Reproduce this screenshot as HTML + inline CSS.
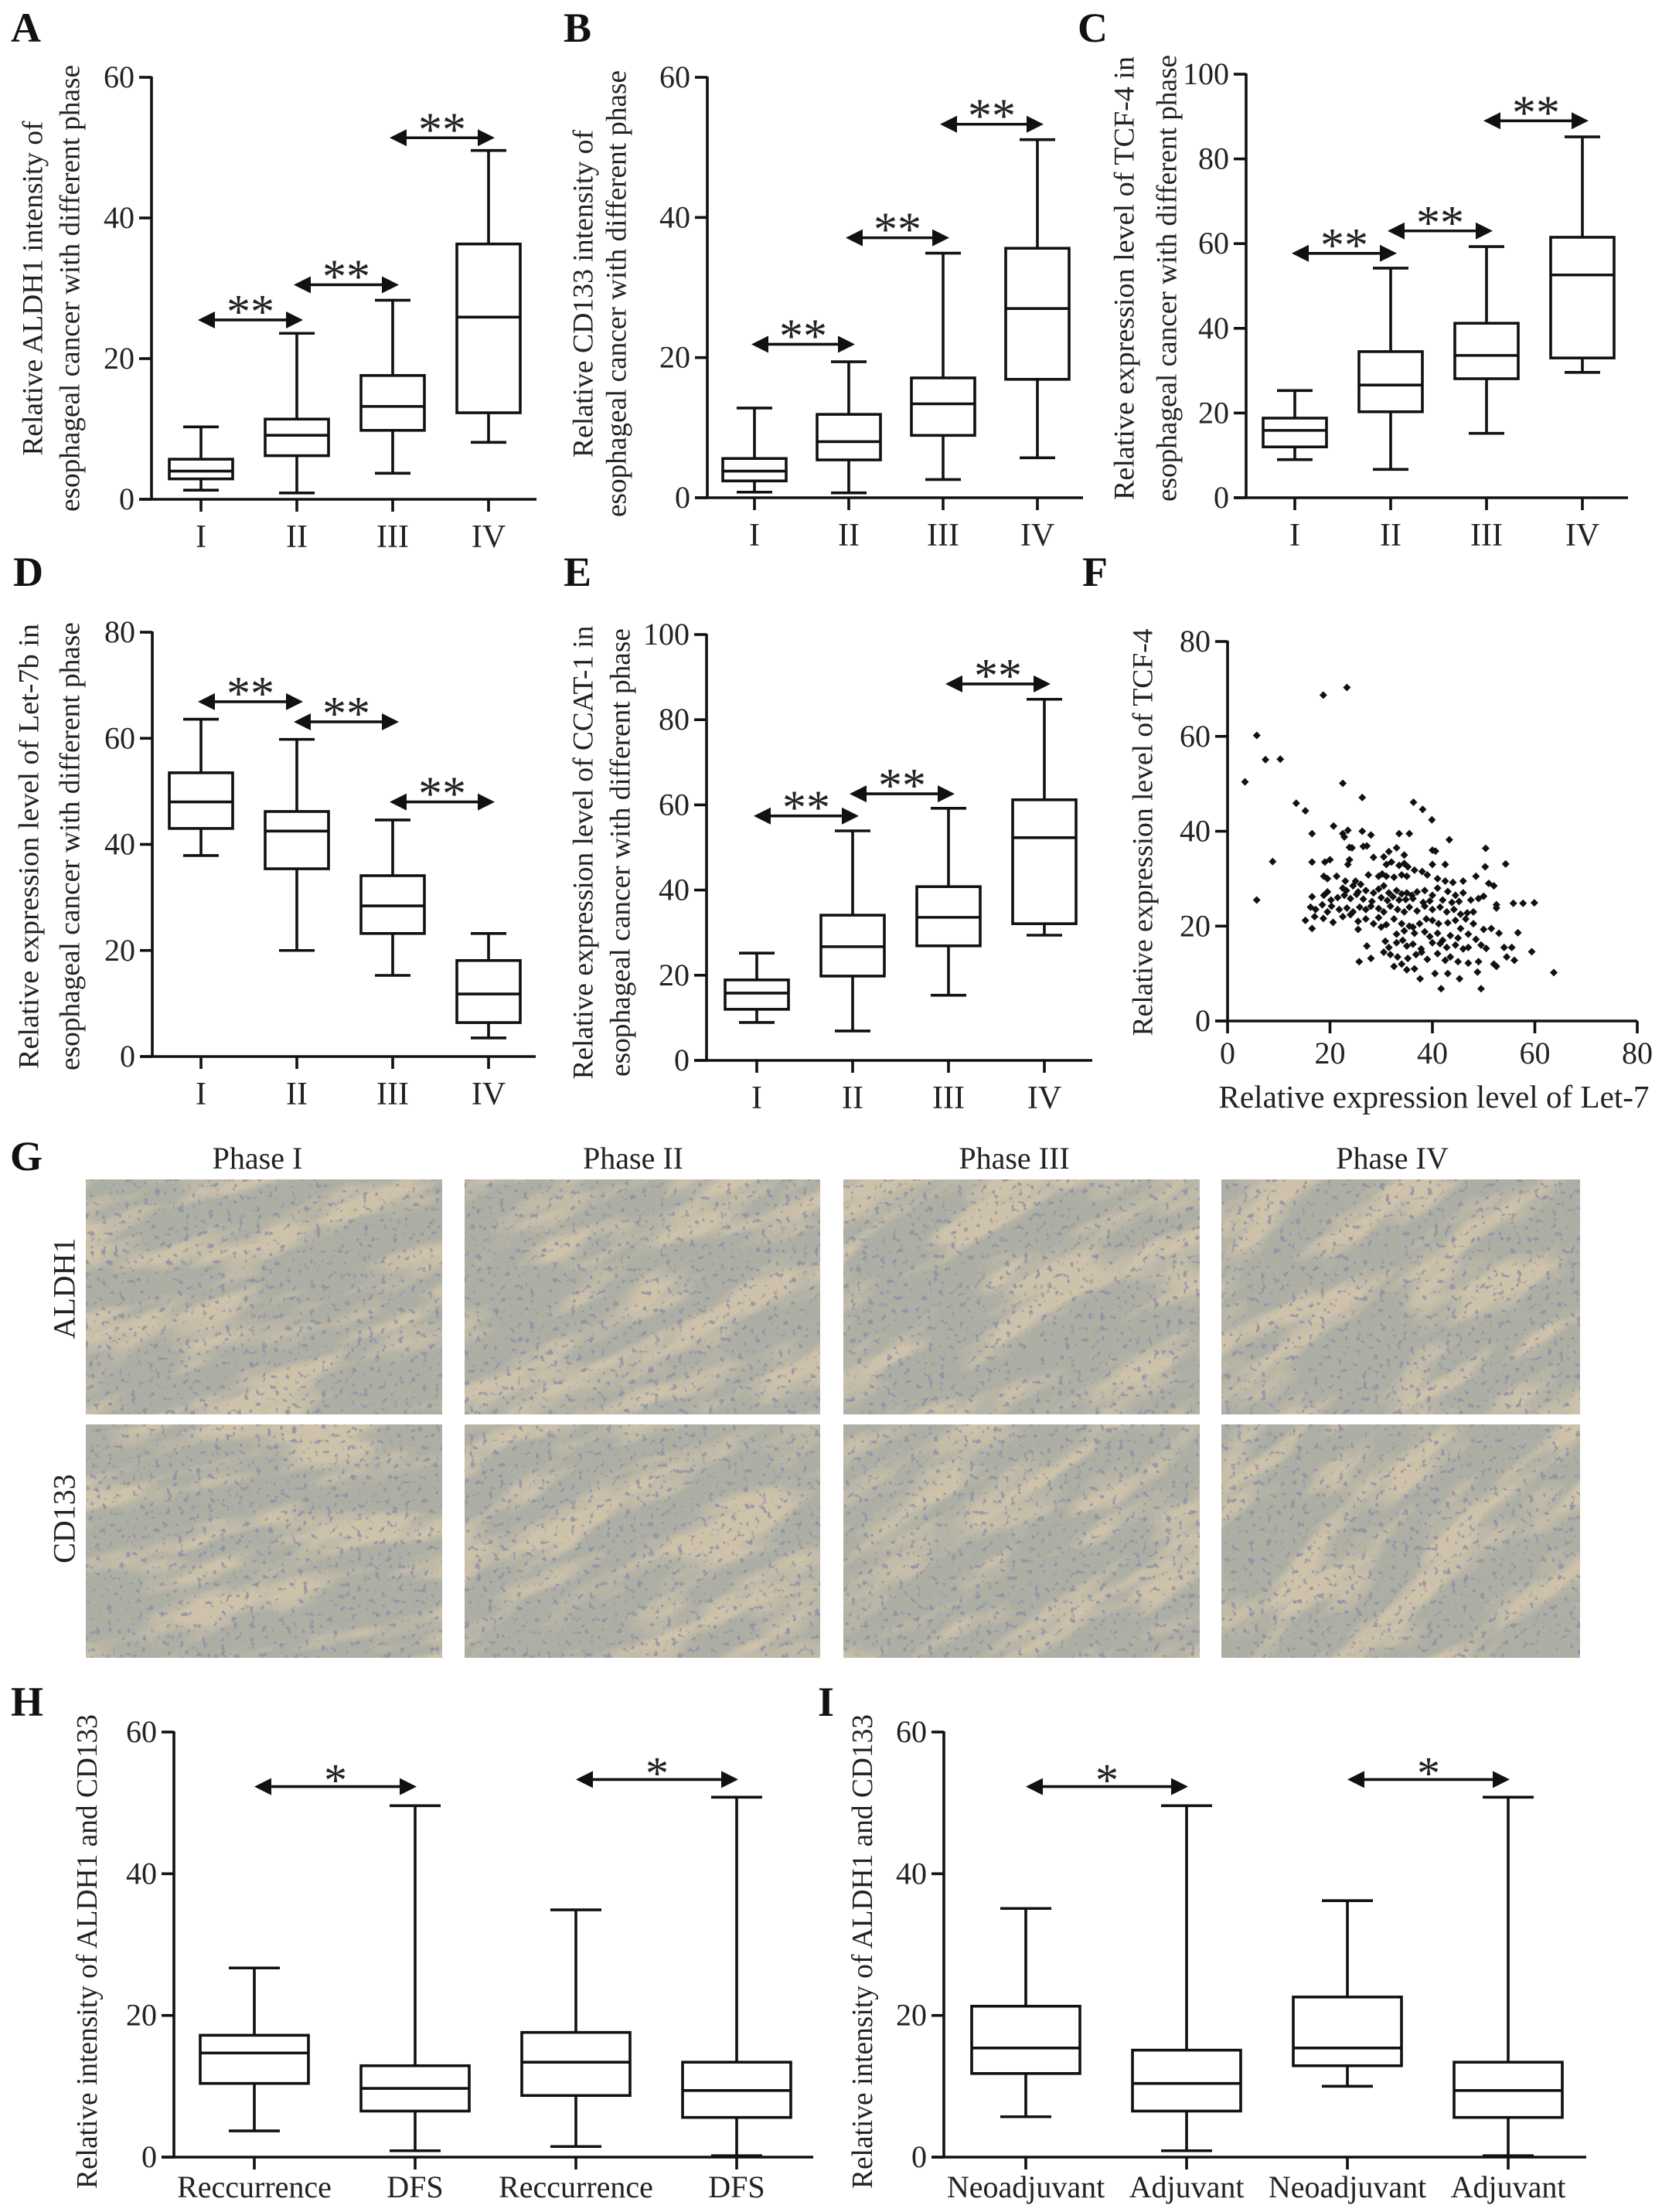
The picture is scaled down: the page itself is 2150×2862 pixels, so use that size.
<!DOCTYPE html>
<html><head><meta charset="utf-8"><title>Esophageal cancer figure</title>
<style>
html,body{margin:0;padding:0;background:#fff;}
svg{display:block;font-family:"Liberation Serif","DejaVu Serif",serif;}
</style></head>
<body>
<svg id="fig" xmlns="http://www.w3.org/2000/svg" width="2150" height="2862" viewBox="0 0 2150 2862">
<defs>
<filter id="tan" x="0" y="0" width="1" height="1">
<feTurbulence type="fractalNoise" baseFrequency="0.006 0.022" numOctaves="3" seed="3"/>
<feColorMatrix type="matrix" values="0 0 0 0 0.72  0 0 0 0 0.60  0 0 0 0 0.42  0 0 0 4.5 -2.1"/>
</filter>
<filter id="nuc" x="0" y="0" width="1" height="1">
<feTurbulence type="fractalNoise" baseFrequency="0.13" numOctaves="2" seed="7"/>
<feColorMatrix type="matrix" values="0 0 0 0 0.28  0 0 0 0 0.28  0 0 0 0 0.38  0 0 0 8 -4.9"/>
</filter>
</defs>
<rect width="2150" height="2862" fill="#fff"/>
<g id="root"></g>
</svg>
<script>
// ---------- Panel A data ----------
const catsPhase = ["I","II","III","IV"];
const ticksA = [0,20,40,60];
const minA = [1.3,0.9,3.7,8.1];
const q1A  = [2.9,6.2,9.8,12.3];
const medA = [4.0,9.1,13.2,25.9];
const q3A  = [5.7,11.4,17.6,36.3];
const maxA = [10.3,23.6,28.3,49.6];
const sigFromA = [0,1,2], sigToA = [1,2,3], sigYA = [25.5,30.5,51.4];
// ---------- Panel B data ----------
const ticksB = [0,20,40,60];
const minB = [0.8,0.7,2.6,5.7];
const q1B  = [2.4,5.4,8.9,16.9];
const medB = [3.8,8.0,13.4,27.0];
const q3B  = [5.6,11.9,17.1,35.6];
const maxB = [12.8,19.4,34.9,51.1];
const sigFromB = [0,1,2], sigToB = [1,2,3], sigYB = [21.9,37.1,53.3];
// ---------- Panel C data ----------
const ticksC = [0,20,40,60,80,100];
const minC = [9.0,6.7,15.2,29.6];
const q1C  = [12.0,20.3,28.1,33.0];
const medC = [15.9,26.6,33.6,52.6];
const q3C  = [18.8,34.5,41.2,61.5];
const maxC = [25.3,54.2,59.3,85.2];
const sigFromC = [0,1,2], sigToC = [1,2,3], sigYC = [57.7,63.0,89.0];
// ---------- Panel D data ----------
const ticksD = [0,20,40,60,80];
const minD = [37.9,20.0,15.3,3.5];
const q1D  = [43.0,35.4,23.2,6.4];
const medD = [48.0,42.5,28.4,11.8];
const q3D  = [53.5,46.2,34.1,18.1];
const maxD = [63.6,59.8,44.6,23.2];
const sigFromD = [0,1,2], sigToD = [1,2,3], sigYD = [66.9,63.1,48.0];
// ---------- Panel E data ----------
const ticksE = [0,20,40,60,80,100];
const minE = [8.9,6.9,15.3,29.4];
const q1E  = [12.0,19.8,26.9,32.1];
const medE = [15.8,26.7,33.6,52.3];
const q3E  = [18.9,34.1,40.8,61.2];
const maxE = [25.2,53.9,59.2,84.8];
const sigFromE = [0,1,2], sigToE = [1,2,3], sigYE = [57.4,62.6,88.4];
// ---------- Panel F data (scatter) ----------
const ticksFx = [0,20,40,60,80];
const ticksFy = [0,20,40,60,80];
const let7 = [18.7,23.3,5.7,7.4,10.3,3.4,22.5,13.4,15.2,26.3,36.3,38.1,39.9,8.8,5.7,16.5,20.7,43.3,50.4,54.3,57.7,59.9,59.4,63.7,56.7,41.7,49.5,37.6,45.3,
22.5,23.5,22.8,26.3,28,33.5,35.5,23.8,24.3,26.5,27.2,31.5,33,34.5,40,40.6,
16.5,19,20,23.5,23.8,28.5,30.5,31,32,33.5,34.5,35.2,36.5,38,40,42.5,50.3,18.8,19.5,21.3,23,25,26,27.5,29.5,30.2,31,32.5,34,35,39,41,42.5,44,46,48.5,51,52,
22.5,23.2,24.5,25.5,27,28.5,29.5,30.5,31.5,33,34,35,36,37,38.5,40,41,43,44.5,46,47.5,49,50,16.5,18.8,19.5,20.2,21.5,22.8,24,25.2,26.5,28.2,30,31.2,32.3,33.5,34.8,36.2,38.2,39.5,42,43.8,45.2,52.5,55.8,
16.2,17.2,18.5,19.5,20.3,21.8,23.3,24.5,25.8,27,28,29.5,30.5,31.8,33.2,34.5,35.5,37,38.5,40,41.5,42.8,44.2,45.5,46.8,48,52.5,15.2,17,18.7,20.6,22.5,24,25.5,27,28.5,29.5,31,32.5,34,35.5,36.2,37.5,38.8,40,41.2,43,44.5,45.5,46.5,48,50,51.5,
16.5,25.5,30,33,34.5,36.5,38.5,39.5,41,42,43.5,45,47,48.5,53,30.8,31.5,33,34.2,35,36.2,37.8,40,41.5,42.8,44.5,46,47,49.5,50.5,54,55.5,27.2,
25.7,28,30.5,31.8,33.2,34,35.2,36.8,37.9,39,41,42.5,43.5,45,47,49,52,52.5,54.5,56,32.5,35,36.5,40.5,43,48.8];
const tcf4 = [68.7,70.3,60.2,55.1,55.2,50.4,50.1,45.9,44.3,47.1,46.1,44.6,42.4,33.6,25.5,39.5,41.1,38.2,36.4,33.1,24.8,24.9,14.6,10.2,18.6,6.8,6.8,8.9,8.9,
39.5,40.2,38.8,40,39.2,39.5,39.5,36.6,36.5,36.8,36.9,35.7,36.5,35,36,35.8,
33.5,33.5,34,33,34,34.5,34.6,33,33.5,32.8,33.2,32.5,31.8,31.5,33,33,32.5,30.5,30,30.5,29.5,29.5,28.8,30.8,30.5,31,30.5,30.3,30.8,30.5,30.8,30,29.5,29.2,29.5,30.5,29,28.5,
28,27.5,28.5,27.2,27.5,27,27.8,28.5,27,27.5,26.8,27,26.5,27.2,27.5,26.5,28,27.3,26.5,27,25.5,25.8,26.3,26.2,26.5,27.2,25.5,26,26.5,25.8,26.7,25.7,25.2,26,25.4,26.2,25.5,25.6,25.8,25,25.3,25.5,25,25.2,24.5,24.8,
24,23.5,24.5,23,24.2,23.5,23.8,23,24,23.5,24.2,23.7,23,24.2,23.5,23,24,23.2,24.2,23.5,24,23,23.5,22.5,22.8,23,23.8,21.2,22,21.6,20.8,22,22.4,21,21.5,20.5,21.8,20.3,21.5,20.5,20,19.8,20.5,21.5,21.2,20.5,20.7,21.2,19.5,21.5,20.5,19.3,19.5,
19.5,19.3,19.8,18.3,19,18.5,18.8,17.8,18.5,17,18,17.5,18.3,17.2,18.5,16.8,15.5,16.5,17,15.8,16.2,15.2,16.5,16.3,15.5,16,15.2,15.5,16,15.3,15.5,15.5,15.8,
12.5,13.2,14.5,14,13.5,12,13.2,14,14.5,13,14.2,12.8,13.5,12.5,12.2,12.5,12,11.5,13.5,12.8,11.5,10.8,11,10,10,10.3];
// ---------- Panel H data ----------
const catsH = ["Reccurrence","DFS","Reccurrence","DFS"];
const ticksH = [0,20,40,60];
const minH = [3.7,0.9,1.5,0.2];
const q1H  = [10.4,6.5,8.7,5.6];
const medH = [14.7,9.7,13.4,9.4];
const q3H  = [17.2,12.9,17.6,13.4];
const maxH = [26.7,49.6,34.9,50.8];
const sigFromH = [0,2], sigToH = [1,3], sigYH = [52.3,53.3];
// ---------- Panel I data ----------
const catsI = ["Neoadjuvant","Adjuvant","Neoadjuvant","Adjuvant"];
const ticksI = [0,20,40,60];
const minI = [5.7,0.9,10.0,0.2];
const q1I  = [11.8,6.5,12.9,5.6];
const medI = [15.4,10.4,15.4,9.4];
const q3I  = [21.3,15.1,22.6,13.4];
const maxI = [35.1,49.6,36.2,50.8];
const sigFromI = [0,2], sigToI = [1,3], sigYI = [52.3,53.3];

const NS = "http://www.w3.org/2000/svg";
const root = document.getElementById("root");
function mk(tag, attrs, parent, text){
  const e = document.createElementNS(NS, tag);
  for (const k in attrs) e.setAttribute(k, attrs[k]);
  if (text !== undefined) e.textContent = text;
  (parent || root).appendChild(e);
  return e;
}
const SW = 3.6;

function panelLetter(letter, x, y){
  const t = mk("text", {x:x, y:y, "font-size":54, "font-weight":"bold", fill:"#111"}, root, letter);
  
  
}
function yTitle(lines, xs, cy, lens, size, name){
  lines.forEach((s, i) => {
    const t = mk("text", {x:0, y:0, "font-size":size, fill:"#222", "text-anchor":"middle",
      "dominant-baseline":"central", transform:"translate(" + xs[i] + "," + cy + ") rotate(-90)",
      textLength:lens[i], lengthAdjust:"spacingAndGlyphs"}, root, s);
    
    
  });
}
function arrow(g, x1, x2, y, name){
  const ag = mk("g", {}, g);
  
  
  mk("line", {x1:x1+14, x2:x2-14, y1:y, y2:y, stroke:"#111", "stroke-width":SW}, ag);
  mk("polygon", {points:(x1)+","+y+" "+(x1+22)+","+(y-11)+" "+(x1+22)+","+(y+11), fill:"#111"}, ag);
  mk("polygon", {points:(x2)+","+y+" "+(x2-22)+","+(y-11)+" "+(x2-22)+","+(y+11), fill:"#111"}, ag);
}

function boxPanel(cfg, cats, ticks, mins, q1s, meds, q3s, maxs, sFrom, sTo, sY){
  const g = mk("g", {});
  
  
  const ymax = ticks[ticks.length-1];
  const yS = v => cfg.y0 - v * (cfg.y0 - cfg.yTop) / ymax;
  const xS = i => cfg.x0 + cfg.off + i * cfg.step;
  const ya = mk("line", {x1:cfg.ax, x2:cfg.ax, y1:cfg.yTop - 1, y2:cfg.y0, stroke:"#111", "stroke-width":SW}, g);
  
  
  const xa = mk("line", {x1:cfg.ax - 16, x2:cfg.xEnd, y1:cfg.y0, y2:cfg.y0, stroke:"#111", "stroke-width":SW}, g);
  
  
  ticks.forEach(v => {
    const y = yS(v);
    mk("line", {x1:cfg.ax - 16, x2:cfg.ax, y1:y, y2:y, stroke:"#111", "stroke-width":SW}, g);
    const t = mk("text", {x:cfg.ax - 22, y:y + 13, "font-size":cfg.tf, "text-anchor":"end", fill:"#222"}, g, String(v));
    
    
  });
  cats.forEach((c, i) => {
    const x = xS(i);
    mk("line", {x1:x, x2:x, y1:cfg.y0, y2:cfg.y0 + 16, stroke:"#111", "stroke-width":SW}, g);
    const t = mk("text", {x:x, y:cfg.y0 + cfg.xl, "font-size":cfg.xf, "text-anchor":"middle", fill:"#222"}, g, c);
    
    
    const bg = mk("g", {}, g);
    
    
    const hw = cfg.bw, cw = cfg.cw;
    mk("line", {x1:x, x2:x, y1:yS(maxs[i]), y2:yS(q3s[i]), stroke:"#111", "stroke-width":SW}, bg);
    mk("line", {x1:x, x2:x, y1:yS(q1s[i]), y2:yS(mins[i]), stroke:"#111", "stroke-width":SW}, bg);
    mk("line", {x1:x-cw, x2:x+cw, y1:yS(maxs[i]), y2:yS(maxs[i]), stroke:"#111", "stroke-width":SW}, bg);
    mk("line", {x1:x-cw, x2:x+cw, y1:yS(mins[i]), y2:yS(mins[i]), stroke:"#111", "stroke-width":SW}, bg);
    mk("rect", {x:x-hw, y:yS(q3s[i]), width:2*hw, height:yS(q1s[i]) - yS(q3s[i]), fill:"#fff", stroke:"#111", "stroke-width":SW}, bg);
    mk("line", {x1:x-hw, x2:x+hw, y1:yS(meds[i]), y2:yS(meds[i]), stroke:"#111", "stroke-width":SW}, bg);
  });
  sFrom.forEach((a, k) => {
    const b = sTo[k];
    const y = yS(sY[k]);
    const x1 = xS(a) + cfg.aL, x2 = xS(b) + cfg.aR;
    arrow(g, x1, x2, y, 'significance-arrow-' + (k+1));
    const t = mk("text", {x:(x1 + x2)/2, y:y + cfg.sd, "font-size":cfg.sf, "text-anchor":"middle", fill:"#222"}, g, cfg.star);
    
    
  });
}

const rowCfg = {bw:41, cw:23, tf:40, xf:42, xl:62, aL:-4, aR:8, sf:62, sd:10, star:"**"};
boxPanel(Object.assign({name:"panel-a-aldh1-boxplot", ax:196, x0:196, off:64, step:124, y0:646, yTop:100, xEnd:694}, rowCfg),
  catsPhase, ticksA, minA, q1A, medA, q3A, maxA, sigFromA, sigToA, sigYA);
boxPanel(Object.assign({name:"panel-b-cd133-boxplot", ax:915, x0:915, off:61, step:122, y0:644, yTop:100, xEnd:1401}, rowCfg),
  catsPhase, ticksB, minB, q1B, medB, q3B, maxB, sigFromB, sigToB, sigYB);
boxPanel(Object.assign({name:"panel-c-tcf4-boxplot", ax:1612, x0:1612, off:63, step:124, y0:644, yTop:96, xEnd:2106}, rowCfg),
  catsPhase, ticksC, minC, q1C, medC, q3C, maxC, sigFromC, sigToC, sigYC);
boxPanel(Object.assign({name:"panel-d-let7b-boxplot", ax:197, x0:197, off:63, step:124, y0:1367, yTop:818, xEnd:693}, rowCfg),
  catsPhase, ticksD, minD, q1D, medD, q3D, maxD, sigFromD, sigToD, sigYD);
boxPanel(Object.assign({name:"panel-e-ccat1-boxplot", ax:914, x0:914, off:65, step:124, y0:1372, yTop:821, xEnd:1413}, rowCfg),
  catsPhase, ticksE, minE, q1E, medE, q3E, maxE, sigFromE, sigToE, sigYE);
const botCfg = {bw:70, cw:33, tf:40, xf:40, xl:52, aL:0, aR:2, sf:60, sd:12, star:"*"};
boxPanel(Object.assign({name:"panel-h-recurrence-boxplot", ax:225, x0:225, off:104, step:208, y0:2791, yTop:2241, xEnd:1052}, botCfg),
  catsH, ticksH, minH, q1H, medH, q3H, maxH, sigFromH, sigToH, sigYH);
boxPanel(Object.assign({name:"panel-i-adjuvant-boxplot", ax:1221, x0:1221, off:106, step:208, y0:2791, yTop:2241, xEnd:2052}, botCfg),
  catsI, ticksI, minI, q1I, medI, q3I, maxI, sigFromI, sigToI, sigYI);

yTitle(["Relative ALDH1 intensity of","esophageal cancer with different phase"], [43,91], 373, [433,578], 37, "panel-a-y-title");
yTitle(["Relative CD133 intensity of","esophageal cancer with different phase"], [755,798], 380, [424,578], 37, "panel-b-y-title");
yTitle(["Relative expression level of TCF-4 in","esophageal cancer with different phase"], [1455,1510], 360, [574,578], 37, "panel-c-y-title");
yTitle(["Relative expression level of Let-7b in","esophageal cancer with different phase"], [38,91], 1095, [576,580], 37, "panel-d-y-title");
yTitle(["Relative expression level of CCAT-1 in","esophageal cancer with different phase"], [755,803], 1103, [587,580], 37, "panel-e-y-title");
yTitle(["Relative expression level of TCF-4"], [1479], 1077, [527], 37, "panel-f-y-title");
yTitle(["Relative intensity of ALDH1 and CD133"], [113], 2525, [614], 38, "panel-h-y-title");
yTitle(["Relative intensity of ALDH1 and CD133"], [1116], 2525, [614], 38, "panel-i-y-title");

(function(){
  const g = mk("g", {});
  
  
  const x0 = 1588, x1 = 2118, y0 = 1321, y1 = 830;
  const xS = v => x0 + v * (x1 - x0) / 80;
  const yS = v => y0 - v * (y0 - y1) / 80;
  const ya = mk("line", {x1:x0, x2:x0, y1:y1 - 1, y2:y0, stroke:"#111", "stroke-width":SW}, g);
  
  
  const xa = mk("line", {x1:x0 - 16, x2:x1, y1:y0, y2:y0, stroke:"#111", "stroke-width":SW}, g);
  
  
  ticksFy.forEach(v => {
    mk("line", {x1:x0 - 16, x2:x0, y1:yS(v), y2:yS(v), stroke:"#111", "stroke-width":SW}, g);
    const t = mk("text", {x:x0 - 22, y:yS(v) + 13, "font-size":40, "text-anchor":"end", fill:"#222"}, g, String(v));
    
    
  });
  ticksFx.forEach(v => {
    mk("line", {x1:xS(v), x2:xS(v), y1:y0, y2:y0 + 16, stroke:"#111", "stroke-width":SW}, g);
    const t = mk("text", {x:xS(v), y:y0 + 55, "font-size":40, "text-anchor":"middle", fill:"#222"}, g, String(v));
    
    
  });
  const xt = mk("text", {x:1855, y:1433, "font-size":41, "text-anchor":"middle", fill:"#222", textLength:557, lengthAdjust:"spacingAndGlyphs"}, g, "Relative expression level of Let-7");
  
  
  const n = Math.min(let7.length, tcf4.length);
  for (let i = 0; i < n; i++){
    const cx = xS(let7[i]), cy = yS(tcf4[i]);
    const p = mk("polygon", {points:(cx)+","+(cy-5)+" "+(cx+5)+","+cy+" "+cx+","+(cy+5)+" "+(cx-5)+","+cy, fill:"#111"}, g);
    
    
  }
})();

(function(){
  const g = mk("g", {});
  
  
  const cols = [[111,572],[601,1061],[1091,1552],[1580,2044]];
  const rows = [[1526,1830],[1843,2145]];
  const phases = ["Phase I","Phase II","Phase III","Phase IV"];
  const pcx = [333,819,1312,1801];
  phases.forEach((p, i) => {
    const t = mk("text", {x:pcx[i], y:1512, "font-size":40, "text-anchor":"middle", fill:"#222"}, g, p);
    
    
  });
  const rl = [["ALDH1",1667],["CD133",1965]];
  rl.forEach(r => {
    const t = mk("text", {x:0, y:0, "font-size":40, "text-anchor":"middle", "dominant-baseline":"central", fill:"#222", transform:"translate(83," + r[1] + ") rotate(-90)"}, g, r[0]);
    
    
  });
  const angles = [[-20,-25,-30,-35],[-15,-25,-30,-40]];
  let k = 0;
  rows.forEach((r, ri) => cols.forEach((c, ci) => {
    k++;
    const w = c[1] - c[0], h = r[1] - r[0];
    const cid = "clip" + k;
    const cp = mk("clipPath", {id:cid}, g);
    mk("rect", {x:c[0], y:r[0], width:w, height:h}, cp);
    const ig = mk("g", {"clip-path":"url(#" + cid + ")"}, g);
    
    
    mk("rect", {x:c[0], y:r[0], width:w, height:h, fill:"#aeafa4"}, ig);
    const cx = (c[0] + c[1]) / 2, cy = (r[0] + r[1]) / 2;
    const rg = mk("g", {transform:"rotate(" + angles[ri][ci] + " " + cx + " " + cy + ") translate(" + (k*37 % 200) + ",0)"}, ig);
    mk("rect", {x:c[0] - 400, y:r[0] - 300, width:w + 800, height:h + 600, filter:"url(#tan)", opacity:0.7}, rg);
    mk("rect", {x:c[0], y:r[0], width:w, height:h, filter:"url(#nuc)", opacity:0.85}, ig);
  }));
})();

panelLetter("A", 14, 54);
panelLetter("B", 729, 54);
panelLetter("C", 1394, 54);
panelLetter("D", 17, 758);
panelLetter("E", 729, 758);
panelLetter("F", 1400, 758);
panelLetter("G", 13, 1514);
panelLetter("H", 14, 2220);
panelLetter("I", 1058, 2220);
</script>
</body></html>
